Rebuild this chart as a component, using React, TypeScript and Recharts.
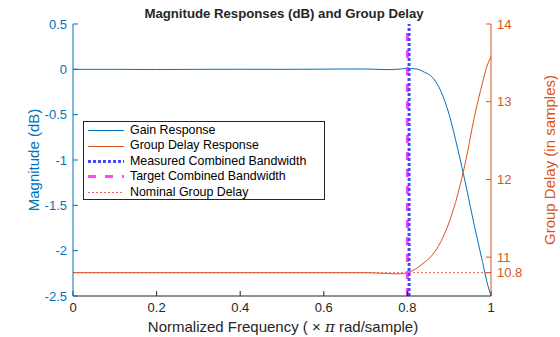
import React from 'react';
import { ComposedChart, Line, XAxis, YAxis, ReferenceLine, Legend, Label } from 'recharts';

// normalized frequency (x pi rad/sample)
const freq = [0, 0.1, 0.2, 0.3, 0.4, 0.5, 0.6, 0.65, 0.7, 0.75, 0.78, 0.8, 0.82, 0.84, 0.86, 0.88, 0.9, 0.92, 0.94, 0.96, 0.98, 0.99, 1.0];
// gain response (dB)
const gainDb = [0, 0, -0.002, 0, 0.001, 0, 0.002, 0.004, 0.004, -0.003, 0.002, 0.01, 0.005, -0.03, -0.09, -0.24, -0.5, -0.87, -1.28, -1.72, -2.13, -2.34, -2.5];
// group delay (samples)
const groupDelay = [10.8, 10.8, 10.8, 10.8, 10.8, 10.8, 10.8, 10.8, 10.8, 10.79, 10.785, 10.8, 10.85, 10.93, 11.03, 11.2, 11.45, 11.8, 12.25, 12.8, 13.25, 13.45, 13.58];

const targetBandwidth = 0.8;
const measuredBandwidth = 0.804;
const nominalDelay = 10.8;

const xTicks = [0, 0.2, 0.4, 0.6, 0.8, 1];
const magTicks = [-2.5, -2, -1.5, -1, -0.5, 0, 0.5];
const delayTicks = [10.8, 11, 12, 13, 14];

const legendLabels = [
  'Gain Response',
  'Group Delay Response',
  'Measured Combined Bandwidth',
  'Target Combined Bandwidth',
  'Nominal Group Delay',
];

const BLUE = '#0072BD';
const ORANGE = '#D95319';
const MEASURED = '#4646FF';
const TARGET = '#FF45FF';
const NOMINAL = '#F06060';
const AXIS = '#262626';

const rows = freq.map((f, i) => ({ f, gain: gainDb[i], delay: groupDelay[i] }));

const legendStyles = [
  { color: BLUE, width: 1, dash: undefined },
  { color: ORANGE, width: 1, dash: undefined },
  { color: MEASURED, width: 3, dash: '3 2' },
  { color: TARGET, width: 3, dash: '8 9' },
  { color: NOMINAL, width: 1, dash: '2 2' },
];

const LegendBox = () => (
  <div
    style={{
      width: 240,
      height: 76,
      border: `1px solid ${AXIS}`,
      background: '#fff',
      fontSize: 12.4,
      color: '#000',
      paddingTop: 1,
      boxSizing: 'content-box',
    }}
  >
    {legendLabels.map((label, i) => (
      <div key={label} style={{ display: 'flex', alignItems: 'center', height: 15.4, lineHeight: '15.4px' }}>
        <svg width={46} height={15} style={{ flex: 'none' }}>
          <line
            x1={4}
            x2={40}
            y1={7.5}
            y2={7.5}
            stroke={legendStyles[i].color}
            strokeWidth={legendStyles[i].width}
            strokeDasharray={legendStyles[i].dash}
          />
        </svg>
        <span style={{ whiteSpace: 'nowrap' }}>{label}</span>
      </div>
    ))}
  </div>
);

export default function App() {
  return (
    <div style={{ position: 'absolute', left: 0, top: 0, fontFamily: '"Liberation Sans", Arial, sans-serif' }}>
      <ComposedChart width={560} height={337} data={rows} margin={{ top: 24, right: 0, bottom: 0, left: 0 }}>
        <text x={284} y={18} textAnchor="middle" fontSize={13.2} fontWeight="bold" fill={AXIS}>
          Magnitude Responses (dB) and Group Delay
        </text>
        <XAxis
          xAxisId="top"
          orientation="top"
          dataKey="f"
          type="number"
          domain={[0, 1]}
          ticks={xTicks}
          height={0}
          tick={false}
          tickSize={-5}
          stroke={AXIS}
        />
        <XAxis
          dataKey="f"
          type="number"
          domain={[0, 1]}
          ticks={xTicks}
          interval={0}
          height={41}
          tickSize={-5}
          tickMargin={12}
          stroke={AXIS}
          tick={{ fill: AXIS, fontSize: 13 }}
          tickFormatter={(v: number) => String(v)}
        >
          <Label
            content={() => (
              <text x={283} y={332} textAnchor="middle" fontSize={15} fill={AXIS}>
                Normalized Frequency ( × <tspan fontStyle="italic" fontFamily="'DejaVu Serif', serif">π</tspan> rad/sample)
              </text>
            )}
          />
        </XAxis>
        <YAxis
          yAxisId="left"
          type="number"
          domain={[-2.5, 0.5]}
          ticks={magTicks}
          interval={0}
          width={73}
          tickSize={-5}
          tickMargin={11}
          stroke={BLUE}
          tick={{ fill: BLUE, fontSize: 13 }}
          allowDataOverflow
        >
          <Label
            content={() => (
              <text x={39} y={160} transform="rotate(-90 39 160)" textAnchor="middle" fontSize={15} fill={BLUE}>
                Magnitude (dB)
              </text>
            )}
          />
        </YAxis>
        <YAxis
          yAxisId="right"
          orientation="right"
          type="number"
          domain={[10.5, 14]}
          ticks={delayTicks}
          interval={0}
          width={69}
          tickSize={-5}
          tickMargin={11}
          stroke={ORANGE}
          tick={{ fill: ORANGE, fontSize: 13 }}
          allowDataOverflow
        >
          <Label
            content={() => (
              <text x={551} y={160} transform="rotate(-90 551 160)" textAnchor="middle" dominantBaseline="middle" fontSize={15} fill={ORANGE}>
                Group Delay (in samples)
              </text>
            )}
          />
        </YAxis>
        <ReferenceLine yAxisId="right" y={nominalDelay} stroke={NOMINAL} strokeWidth={1} strokeDasharray="2 2" />
        <Line yAxisId="left" type="monotone" dataKey="gain" stroke={BLUE} strokeWidth={1} dot={false} isAnimationActive={false} />
        <Line yAxisId="right" type="monotone" dataKey="delay" stroke={ORANGE} strokeWidth={1} dot={false} isAnimationActive={false} />
        <ReferenceLine yAxisId="left" x={targetBandwidth} stroke={TARGET} strokeWidth={3} strokeDasharray="8 9" />
        <ReferenceLine yAxisId="left" x={measuredBandwidth} stroke={MEASURED} strokeWidth={3} strokeDasharray="3 2" />
        <Legend
          layout="vertical"
          align="center"
          verticalAlign="middle"
          content={() => <LegendBox />}
          wrapperStyle={{ left: 83, top: 121, width: 242, height: 78 }}
        />
      </ComposedChart>
    </div>
  );
}
